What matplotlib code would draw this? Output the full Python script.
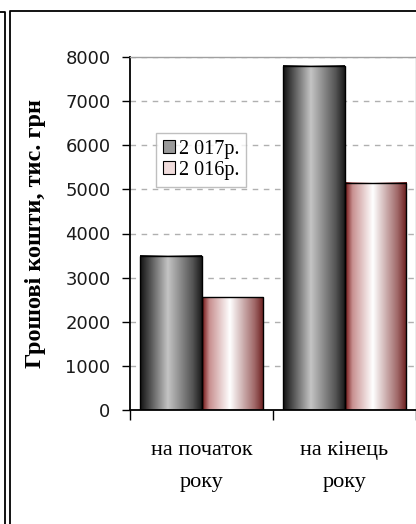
import numpy as np
import matplotlib
matplotlib.use('Agg')
import matplotlib.pyplot as plt
from matplotlib.colors import LinearSegmentedColormap
from matplotlib.patches import Patch
from matplotlib.lines import Line2D

# cash at start / end of year, thousand UAH
categories = ['на початок\nроку', 'на кінець\nроку']
series = ['2 017р.', '2 016р.']
values_2017 = [3500, 7800]
values_2016 = [2550, 5150]
yticks = [0, 1000, 2000, 3000, 4000, 5000, 6000, 7000, 8000]

serif = 'Liberation Serif'

fig = plt.figure(figsize=(4.16, 5.24), dpi=100)
ax = fig.add_axes([130 / 416, 114 / 524, 286 / 416, 353 / 524])

# horizontal gradients like the Excel bar fill
cmap_2017 = LinearSegmentedColormap.from_list(
    'g17', [(0, '#111111'), (0.45, '#c4c4c4'), (0.85, '#555555'), (1, '#1a1a1a')])
cmap_2016 = LinearSegmentedColormap.from_list(
    'g16', [(0, '#6e1010'), (0.12, '#c89090'), (0.45, '#ffffff'), (0.85, '#a06868'), (1, '#6a1c1c')])
grad = np.linspace(0, 1, 256).reshape(1, -1)

x = np.arange(len(categories))
w = 0.433
b1 = ax.bar(x - w / 2, values_2017, w, facecolor='none', edgecolor='black', linewidth=1.0, zorder=3)
b2 = ax.bar(x + w / 2, values_2016, w, facecolor='none', edgecolor='black', linewidth=1.0, zorder=3)

for bars, cm in [(b1, cmap_2017), (b2, cmap_2016)]:
    for r in bars:
        x0, wd, h = r.get_x(), r.get_width(), r.get_height()
        ax.imshow(grad, cmap=cm, aspect='auto', extent=(x0, x0 + wd, 0, h),
                  interpolation='bilinear', zorder=2)

ax.set_xlim(-0.5, len(categories) - 0.5)
ax.set_ylim(0, 8000)
ax.set_yticks(yticks)
ax.tick_params(axis='y', direction='out', length=6, width=1, pad=8, labelsize=13)
for t in ax.get_yticklabels():
    t.set_fontfamily('DejaVu Sans')
    t.set_color('#1a1a1a')

# category boundaries get ticks, names sit in the middle
ax.set_xticks(np.arange(len(categories) + 1) - 0.5)
ax.set_xticklabels([])
ax.tick_params(axis='x', direction='out', length=7, width=1)
ax.set_xticks(x, minor=True)
ax.set_xticklabels(categories, minor=True, fontfamily=serif, fontsize=16, linespacing=1.95)
ax.tick_params(axis='x', which='minor', length=0, pad=22)

ax.yaxis.grid(True, linestyle=(0, (4, 4)), color='#b0b0b0', linewidth=1)
ax.set_axisbelow(True)

for s in ['left', 'bottom']:
    ax.spines[s].set_color('black')
    ax.spines[s].set_linewidth(1.3)
for s in ['top', 'right']:
    ax.spines[s].set_color('#a0a0a0')
    ax.spines[s].set_linewidth(1)

ax.set_ylabel('Грошові кошти, тис. грн', fontfamily=serif, fontweight='bold', fontsize=17.5, labelpad=14)

handles = [Patch(facecolor='#9a9a9a', edgecolor='black', linewidth=0.8),
           Patch(facecolor='#f0dcdc', edgecolor='black', linewidth=0.8)]
leg = ax.legend(handles, series, loc='upper left', bbox_to_anchor=(0.09, 0.785),
                borderaxespad=0,
                prop={'family': serif, 'size': 14.5}, frameon=True, fancybox=False,
                edgecolor='#b0b0b0', handlelength=0.6, handleheight=0.6,
                handletextpad=0.2, borderpad=0.35, labelspacing=0.1)
leg.get_frame().set_linewidth(1)

# outer frames of the document
fig.add_artist(Line2D([9.5 / 416, 9.5 / 416, 1], [0, 1 - 10.5 / 524, 1 - 10.5 / 524],
                      transform=fig.transFigure, color='black', linewidth=1.3))
fig.add_artist(Line2D([0, 5 / 416, 5 / 416], [1 - 12 / 524, 1 - 12 / 524, 0],
                      transform=fig.transFigure, color='black', linewidth=1.3))

fig.savefig('out.png', dpi=100)
